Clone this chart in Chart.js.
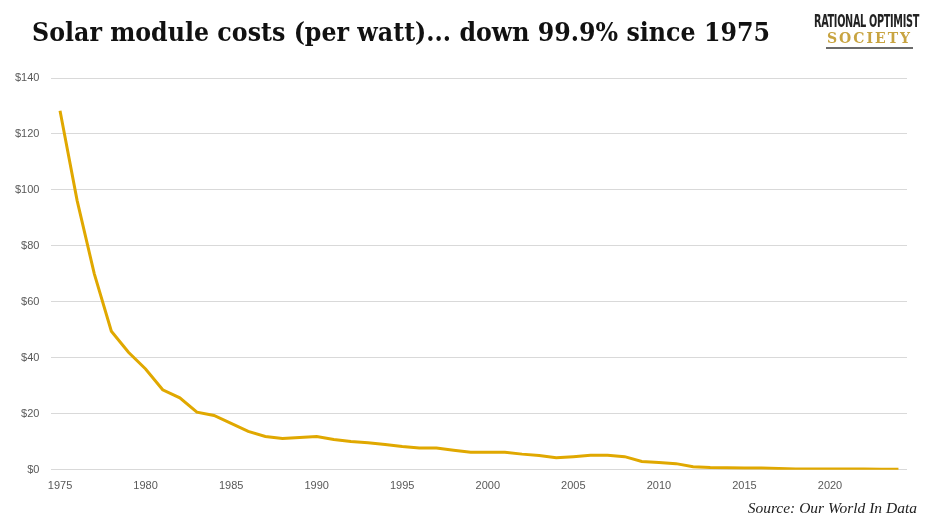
<!DOCTYPE html>
<html>
<head>
<meta charset="utf-8">
<script src="https://cdn.jsdelivr.net/npm/chart.js@4"></script>
<style>
  html, body { margin:0; padding:0; background:#fff; }
  #wrap { position:relative; width:936px; height:518px; overflow:hidden; }
  #chart { position:absolute; left:0; top:0; }
  .title {
    position:absolute; left:32px; top:17px; margin:0;
    font:bold 26px "DejaVu Serif", Georgia, serif; color:#111;
    white-space:nowrap; transform-origin:left top;
  }
  .logo1 {
    position:absolute; left:814px; top:11px;
    font:bold 17px "DejaVu Sans Condensed", "DejaVu Sans", sans-serif; color:#222;
    white-space:nowrap; transform-origin:left top; letter-spacing:-0.5px;
  }
  .logo2 {
    position:absolute; left:827px; top:30px;
    font:bold 14px "DejaVu Serif", serif; color:#c8a441; letter-spacing:2px;
    white-space:nowrap;
  }
  .logoLine { position:absolute; left:826px; top:47px; width:87px; height:2px; background:#6b6b6b; }
  .source {
    position:absolute; right:19px; top:499px;
    font:italic 15.5px "Liberation Serif", serif; color:#222; white-space:nowrap;
  }
</style>
</head>
<body>
<div id="wrap">
  <canvas id="chart" width="936" height="518"></canvas>
  <div class="title" id="title">Solar module costs (per watt)... down 99.9% since 1975</div>
  <div class="logo1" id="logo1">RATIONAL OPTIMIST</div>
  <div class="logo2">SOCIETY</div>
  <div class="logoLine"></div>
  <div class="source">Source: Our World In Data</div>
</div>
<script>
/* ---------- data ---------- */
const years  = [1975,1976,1977,1978,1979,1980,1981,1982,1983,1984,
                1985,1986,1987,1988,1989,1990,1991,1992,1993,1994,
                1995,1996,1997,1998,1999,2000,2001,2002,2003,2004,
                2005,2006,2007,2008,2009,2010,2011,2012,2013,2014,
                2015,2016,2017,2018,2019,2020,2021,2022,2023,2024];
const prices = [128.3,96.2,70.1,49.5,42.0,36.0,28.6,25.7,20.6,19.4,
                16.6,13.7,11.9,11.2,11.5,11.9,10.8,10.1,9.7,9.0,
                8.3,7.8,7.8,7.0,6.3,6.3,6.3,5.6,5.1,4.3,
                4.7,5.2,5.2,4.7,3.0,2.6,2.2,1.1,0.8,0.7,
                0.6,0.6,0.5,0.3,0.3,0.25,0.25,0.25,0.2,0.2];
const yTicks = [0,20,40,60,80,100,120,140];

/* ---------- fit header texts to their widths ---------- */
function fitWidth(id, target) {
  const el = document.getElementById(id);
  const w  = el.getBoundingClientRect().width;
  if (w) el.style.transform = `scaleX(${target / w})`;
}
fitWidth('title', 738);
fitWidth('logo1', 105);

/* ---------- chart ---------- */
new Chart(document.getElementById('chart'), {
  type: 'line',
  data: {
    labels: years,
    datasets: [{
      data: prices,
      borderColor: '#e0a800',
      borderWidth: 3,
      pointRadius: 0,
      tension: 0,
      fill: false
    }]
  },
  options: {
    responsive: false,
    animation: false,
    layout: { padding: { left: 3, right: 29, top: 78, bottom: 23 } },
    plugins: { legend: { display:false }, tooltip: { enabled:false } },
    scales: {
      x: {
        type: 'category',
        offset: true,
        grid: { display:false },
        border: { display:false },
        ticks: {
          autoSkip: false,
          maxRotation: 0,
          color: '#595959',
          font: { family: 'Liberation Sans', size: 11 },
          padding: 2,
          callback: function(v, i) { const y = years[i]; return y % 5 === 0 ? String(y) : ''; }
        }
      },
      y: {
        min: 0, max: 140,
        afterBuildTicks: ax => { ax.ticks = yTicks.map(v => ({ value: v })); },
        grid: { color:'#d9d9d9', lineWidth:1, drawTicks:false },
        border: { display:false },
        ticks: {
          color: '#595959',
          font: { family: 'Liberation Sans', size: 11 },
          padding: 12,
          callback: v => '$' + v
        }
      }
    }
  }
});
</script>
</body>
</html>
